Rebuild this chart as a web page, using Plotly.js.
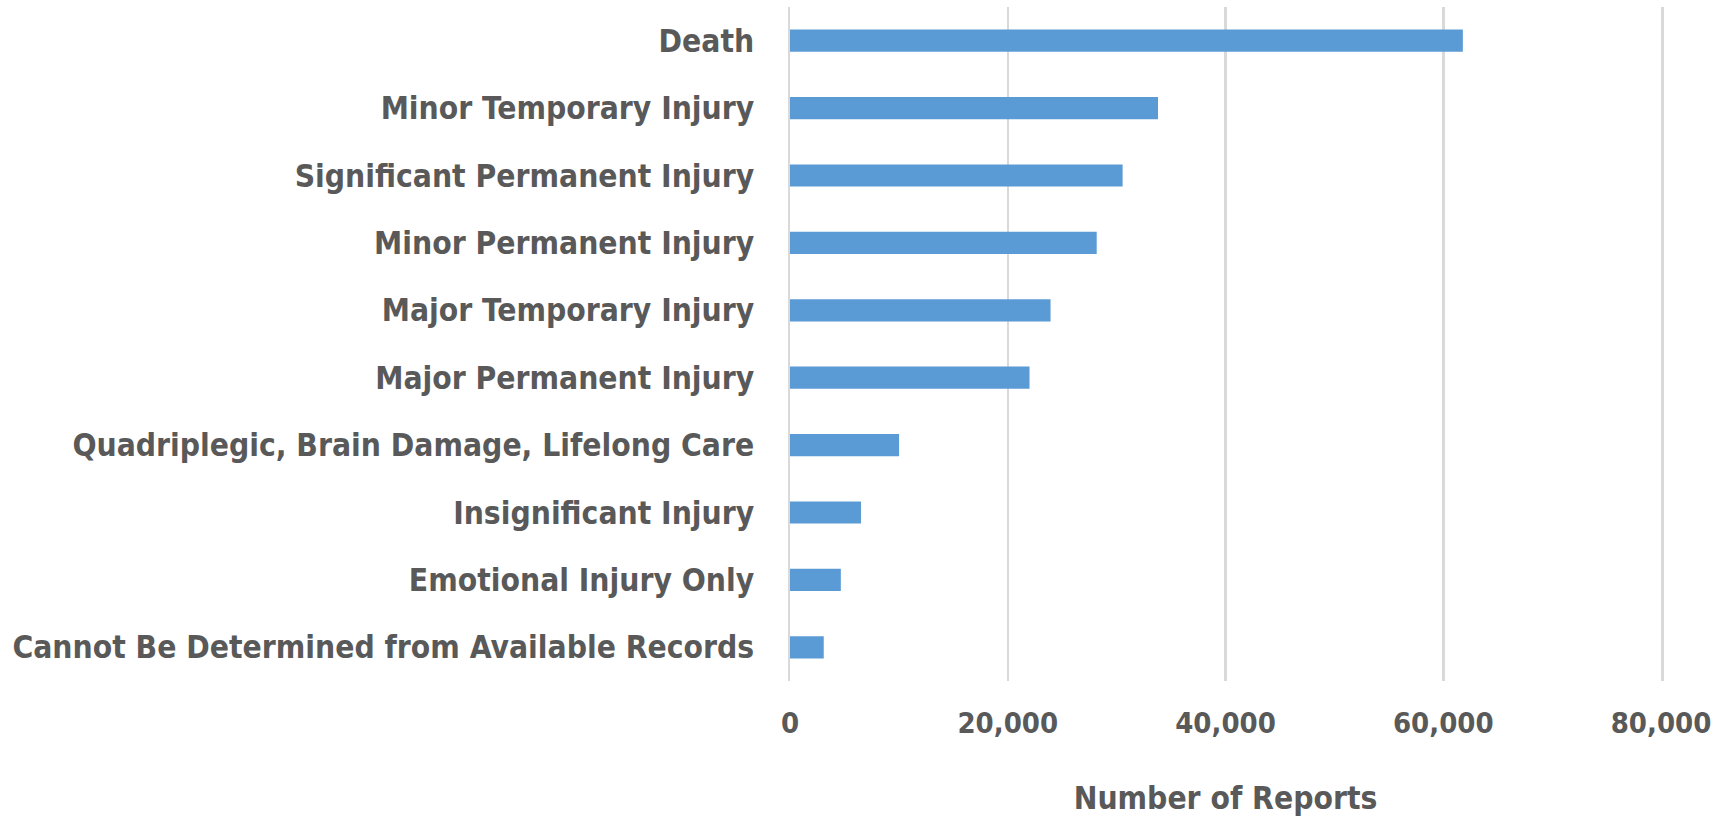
<!DOCTYPE html>
<html>
<head>
<meta charset="utf-8">
<script src="https://cdn.plot.ly/plotly-3.0.1.min.js"></script>
<style>
html,body{margin:0;padding:0;background:#fff;}
#chart{width:1721px;height:816px;}
</style>
</head>
<body>
<div id="chart"></div>
<script>
const categories = [
  "Death",
  "Minor Temporary Injury",
  "Significant Permanent Injury",
  "Minor Permanent Injury",
  "Major Temporary Injury",
  "Major Permanent Injury",
  "Quadriplegic, Brain Damage, Lifelong Care",
  "Insignificant Injury",
  "Emotional Injury Only",
  "Cannot Be Determined from Available Records"
];
const reports = [61800, 33800, 30550, 28170, 23930, 22000, 10020, 6520, 4670, 3100];
const xTickVals = [0, 20000, 40000, 60000, 80000];
const xTickText = ["0", "20,000", "40,000", "60,000", "80,000"];

const labelFont = {family: "DejaVu Sans Condensed, DejaVu Sans, sans-serif", size: 31.5, color: "#595959", weight: "bold"};

const trace = {
  type: "bar",
  orientation: "h",
  y: categories,
  x: reports,
  marker: {color: "#5b9bd5"},
  hoverinfo: "x+y"
};

const layout = {
  width: 1721,
  height: 816,
  paper_bgcolor: "#ffffff",
  plot_bgcolor: "#ffffff",
  margin: {l: 790, r: 60, t: 7, b: 135},
  bargap: 0.67,
  showlegend: false,
  xaxis: {
    range: [0, 80000],
    tickvals: xTickVals,
    ticktext: xTickText,
    showgrid: true,
    gridcolor: "#d9d9d9",
    gridwidth: 2.5,
    zeroline: false,
    showline: false,
    ticks: "",
    ticklabelstandoff: 22,
    tickfont: {family: "DejaVu Sans Condensed, DejaVu Sans, sans-serif", size: 29, color: "#595959", weight: "bold"},
    title: {text: "Number of Reports", font: labelFont, standoff: 48},
    fixedrange: true
  },
  yaxis: {
    categoryorder: "array",
    categoryarray: categories,
    autorange: "reversed",
    showgrid: false,
    zeroline: false,
    showline: true,
    mirror: true,
    linecolor: "#d9d9d9",
    linewidth: 2.5,
    ticks: "",
    ticklabelstandoff: 27,
    tickfont: labelFont,
    fixedrange: true
  }
};

Plotly.newPlot("chart", [trace], layout, {displayModeBar: false, staticPlot: true});
</script>
</body>
</html>
